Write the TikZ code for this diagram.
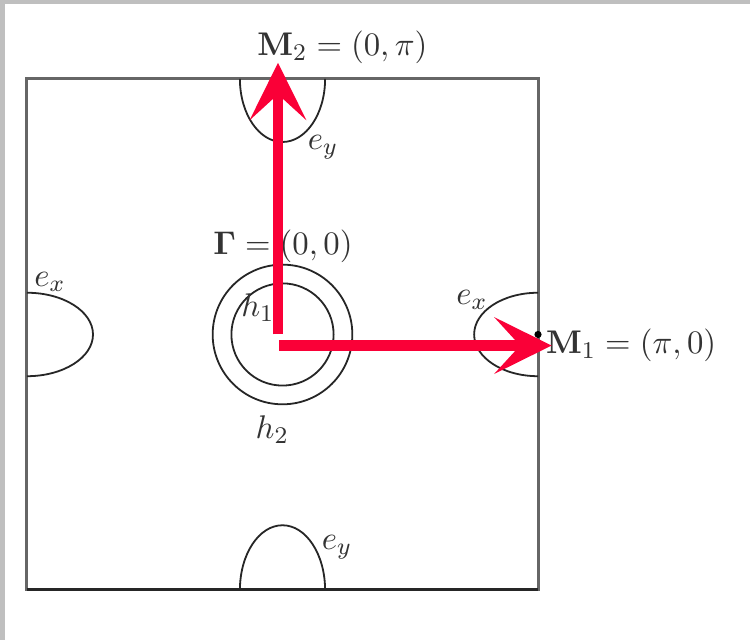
\documentclass[tikz,border=0pt,11pt]{standalone}
\usepackage{amsmath,amssymb}
\usetikzlibrary{positioning, calc, arrows.meta}
\definecolor{arrowred}{RGB}{250,0,55}

\begin{document}
\begin{tikzpicture}[>={Stealth[length=0.67cm, width=0.66cm, inset=0.3cm]}, every node/.style={text=black!80}]
    % Frame
    \useasboundingbox (-3.317,-3.587) rectangle (5.489,3.927);
    \fill[gray!50] (-3.317,-3.587) rectangle (5.489,3.927);
    \fill[white] (-3.258,-3.587) rectangle (5.489,3.88);

    % Brillouin zone
    \draw[line width=1pt, black!60] (-3,-3) rectangle (3,3);
    \draw[line width=1pt, black!85] (-3,-3) -- (3,-3);

    % Coordinates
    \coordinate (G) at (0,0);
    \coordinate (M1) at (3,0);
    \coordinate (M2) at (0,3);
    \coordinate (M1b) at (0,-3);
    \coordinate (M2b) at (-3,0);

    % Hole pockets
    \draw[black!85, line width=0.6pt] (G) circle (0.6) (G) circle (0.82);
    \node (h1) at (-0.29,0.32) {$h_1$};
    \node (h2) at (-0.12,-1.12) {$h_2$};
    \node (gam) at (0.006,1.03) {$\boldsymbol{\Gamma} = (0,0)$};

    % Electron pockets
    \draw[black!85, line width=0.6pt] ($(M2)+(-0.5,0)$) arc[start angle=180, end angle=360, x radius=0.5, y radius=0.74];
    \draw[black!85, line width=0.6pt] ($(M1b)+(-0.5,0)$) arc[start angle=180, end angle=0, x radius=0.5, y radius=0.76];
    \draw[black!85, line width=0.6pt] ($(M2b)+(0,0.49)$) arc[start angle=90, end angle=-90, x radius=0.775, y radius=0.49];
    \draw[black!85, line width=0.6pt] ($(M1)+(0,0.49)$) arc[start angle=90, end angle=270, x radius=0.75, y radius=0.49];
    \node (ey1) at (0.475,2.2) {$e_y$};
    \node (ey2) at (0.64,-2.495) {$e_y$};
    \node (ex1) at (-2.73,0.616) {$e_x$};
    \node (ex2) at (2.225,0.405) {$e_x$};

    % High-symmetry points
    \fill (M1) circle (1.2pt);
    \node[anchor=west] (m1lab) at (2.96,-0.123) {$\mathbf{M}_1 = (\pi,0)$};
    \node[anchor=west] (m2lab) at (-0.43,3.37) {$\mathbf{M}_2 = (0,\pi)$};

    % Reciprocal vectors
    \coordinate (Gv) at (-0.053,0);
    \coordinate (Tv) at (-0.053,3.19);
    \coordinate (Gh) at (-0.04,-0.13);
    \coordinate (Th) at (3.16,-0.13);
    \draw[->, arrowred, line width=3.4pt] (Gv) -- (Tv);
    \draw[->, arrowred, line width=3.4pt] (Gh) -- (Th);
\end{tikzpicture}
\end{document}
